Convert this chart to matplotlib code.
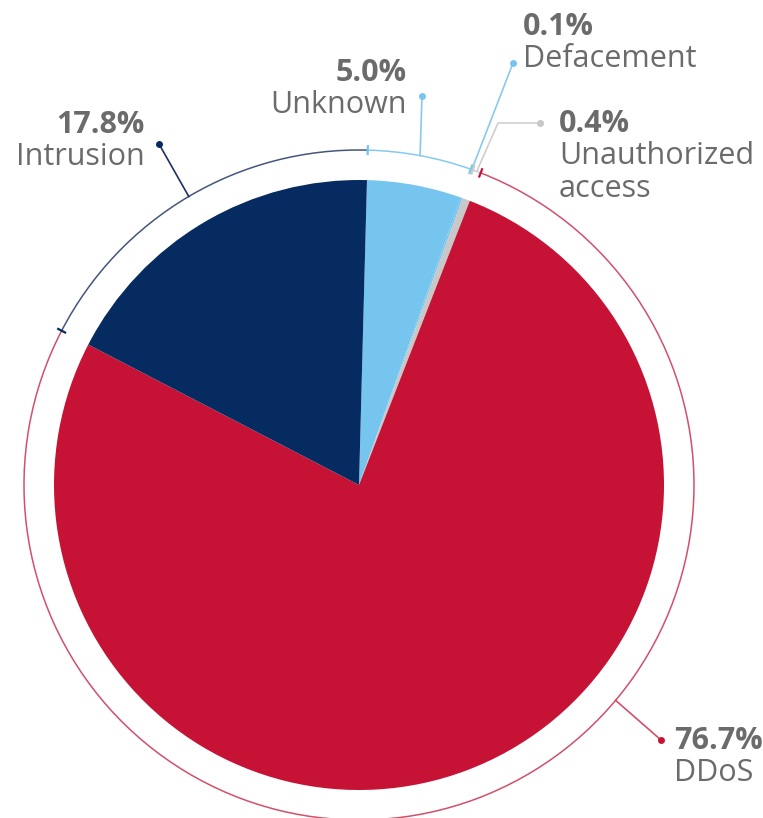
import numpy as np
import matplotlib.pyplot as plt
from matplotlib.patches import Arc

plt.rcParams['font.family'] = ['Open Sans', 'DejaVu Sans']

# data
labels = ['Unknown', 'Defacement', 'Unauthorized\naccess', 'DDoS', 'Intrusion']
shares = [5.0, 0.1, 0.4, 76.7, 17.8]
colors = ['#76c5ef', '#76c5ef', '#c8c8c8', '#c61235', '#062b61']
ring_colors = ['#86cbee', '#86cbee', '#cfcfcf', '#d2506a', '#45557c']

# layout (pixel coordinates of the 763x818 picture, y measured from the top)
W, H = 763, 818
cx, cy = 359, 485
r_pie = 305
r_ring = 335
start = 88.5
text_color = '#6b6b6b'
fs = 22

# leader: start angle on ring (None = middle of slice), elbow, dot, text anchor, align
leaders = [
    (None, None, (422, 96), (407, 81), 'right'),
    (None, None, (513, 63), (523, 35), 'left'),
    (None, (498, 123), (540, 123), (559, 132), 'left'),
    (-40, None, (661, 740), (674, 749), 'left'),
    (None, None, (159, 144), (145, 133), 'right'),
]
line_gap = 33


def Y(y):
    return H - y


fig = plt.figure(figsize=(W / 100, H / 100), dpi=100)
ax = fig.add_axes([0, 0, 1, 1])

ax.pie(shares, colors=colors, startangle=start, counterclock=False,
       center=(cx, Y(cy)), radius=r_pie, wedgeprops=dict(linewidth=0))

angles = start - 3.6 * np.concatenate([[0], np.cumsum(shares)])

for i, (lab, share) in enumerate(zip(labels, shares)):
    a0, a1 = angles[i], angles[i + 1]
    rc = ring_colors[i]
    ax.add_patch(Arc((cx, Y(cy)), 2 * r_ring, 2 * r_ring, theta1=a1, theta2=a0,
                     color=rc, lw=1.1))
    # tick at slice start
    t = np.radians(a0)
    ax.plot([cx + (r_ring - 5) * np.cos(t), cx + (r_ring + 5) * np.cos(t)],
            [Y(cy) + (r_ring - 5) * np.sin(t), Y(cy) + (r_ring + 5) * np.sin(t)],
            color=colors[i], lw=1.6, solid_capstyle='butt')

    ang, elbow, dot, txt, ha = leaders[i]
    if ang is None:
        ang = (a0 + a1) / 2
    t = np.radians(ang)
    xs = [cx + r_ring * np.cos(t)]
    ys = [Y(cy) + r_ring * np.sin(t)]
    if elbow is not None:
        xs.append(elbow[0])
        ys.append(Y(elbow[1]))
    xs.append(dot[0])
    ys.append(Y(dot[1]))
    lc = rc if i != 4 else '#1d3060'
    ax.plot(xs, ys, color=lc, lw=1.2)
    ax.plot(dot[0], Y(dot[1]), 'o', color=colors[i], ms=5, mec='none')

    ax.text(txt[0], Y(txt[1]), f'{share:.1f}%', ha=ha, va='baseline',
            fontsize=fs, fontweight='bold', color=text_color)
    for k, part in enumerate(lab.split('\n')):
        ax.text(txt[0], Y(txt[1] + line_gap * (k + 1) - 1), part, ha=ha,
                va='baseline', fontsize=fs, color=text_color)

ax.set_xlim(0, W)
ax.set_ylim(0, H)
ax.set_aspect('equal')
ax.axis('off')

fig.savefig('out.png', dpi=100, facecolor='white')
